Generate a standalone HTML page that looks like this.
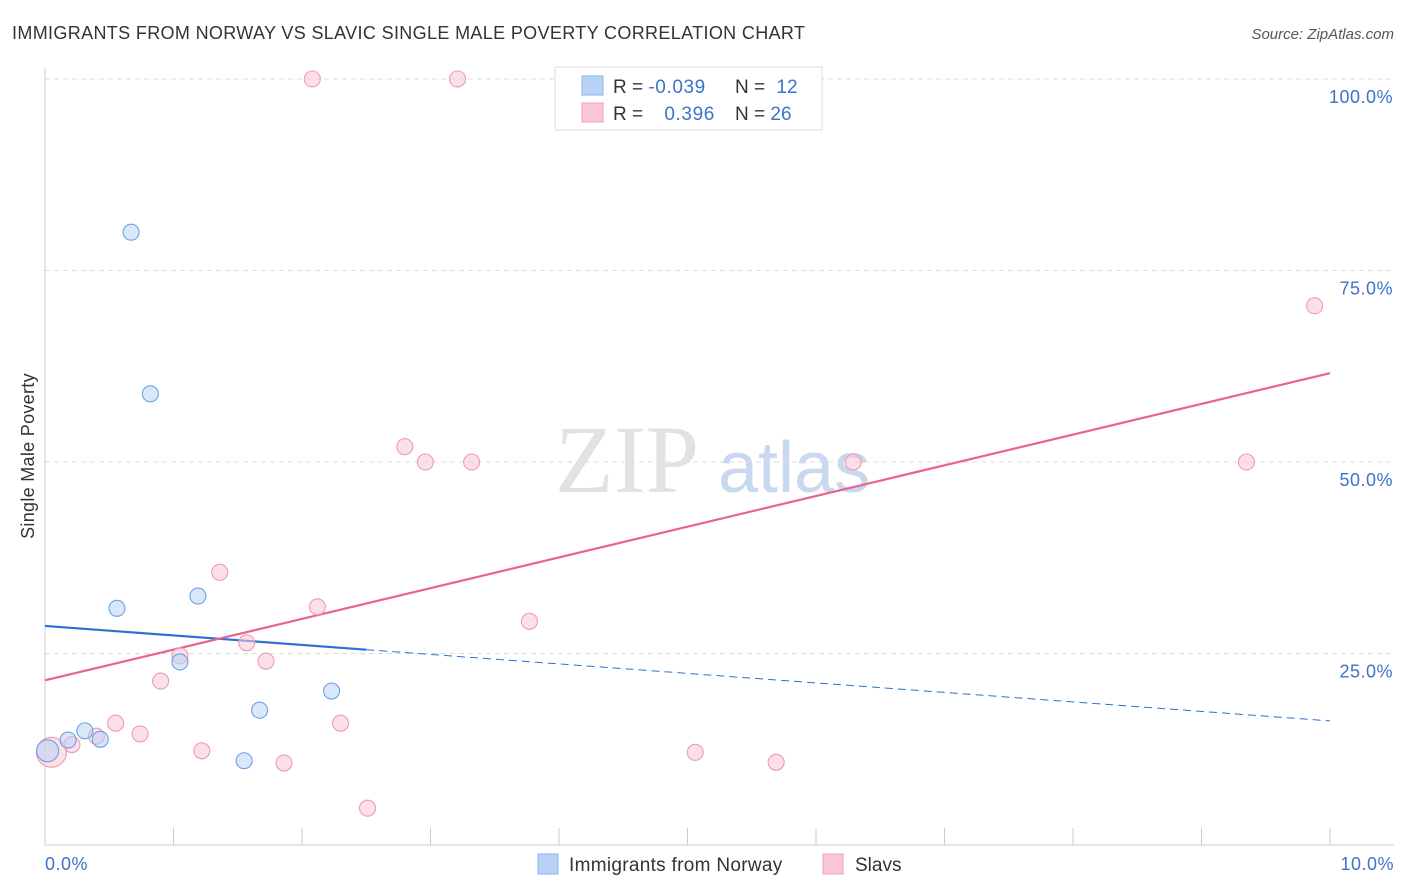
<!DOCTYPE html>
<html><head><meta charset="utf-8"><style>
body{margin:0;background:#fff;font-family:"Liberation Sans",sans-serif;}
svg{display:block}
</style></head><body>
<svg id="c" width="1406" height="892" xmlns="http://www.w3.org/2000/svg">
<text x="12" y="39" font-size="18" fill="#333" letter-spacing="0.35">IMMIGRANTS FROM NORWAY VS SLAVIC SINGLE MALE POVERTY CORRELATION CHART</text>
<text x="1394" y="39" font-size="15" fill="#555" font-style="italic" text-anchor="end">Source: ZipAtlas.com</text>
<text x="34" y="456" font-size="18" fill="#333" text-anchor="middle" letter-spacing="0.3" transform="rotate(-90 34 456)">Single Male Poverty</text>
<text x="555" y="492" font-size="96" fill="#e2e2e2" font-family="Liberation Serif,serif">ZIP</text>
<text x="718" y="492" font-size="72" fill="#c8d8ef">atlas</text>
<g id="grid"></g><g id="axes"></g><g id="lines"></g><g id="pts"></g>
<g>
<rect x="555" y="67" width="267" height="63" fill="#fff" stroke="#ddd"/>
<rect x="582" y="76" width="21" height="19" fill="#b8d3f5" stroke="#8ab4e8"/>
<rect x="582" y="103" width="21" height="19" fill="#f9c6d6" stroke="#f0a0b8"/>
<text x="613" y="93" font-size="19" fill="#333">R = <tspan fill="#3b73c8" letter-spacing="0.6">-0.039</tspan></text>
<text x="735" y="93" font-size="19" fill="#333">N = <tspan fill="#3b73c8" dx="6">12</tspan></text>
<text x="613" y="120" font-size="19" fill="#333">R = <tspan fill="#3b73c8" dx="16" letter-spacing="0.6">0.396</tspan></text>
<text x="735" y="120" font-size="19" fill="#333">N = <tspan fill="#3b73c8">26</tspan></text>
</g>
<g>
<rect x="538" y="854" width="20" height="20" fill="#b8d3f5" stroke="#8ab4e8"/>
<text x="569" y="871" font-size="19" fill="#333" letter-spacing="0.3">Immigrants from Norway</text>
<rect x="823" y="854" width="20" height="20" fill="#f9c6d6" stroke="#f0a0b8"/>
<text x="855" y="871" font-size="19" fill="#333">Slavs</text>
</g>
</svg>
<script>
const blueX=[0.67,0.82,0.56,1.19,1.05,2.23,1.67,1.55,0.31,0.18,0.43,0.02];
const blueY=[80.0,58.9,30.9,32.5,23.9,20.1,17.6,11.0,14.9,13.7,13.8,12.3];
const pinkX=[2.08,3.21,9.88,2.80,2.96,3.32,6.29,9.35,1.36,2.12,3.77,1.57,1.05,1.72,0.90,0.55,2.30,0.74,0.40,0.21,1.22,5.06,1.86,5.69,2.51,0.05];
const pinkY=[100,100,70.4,52.0,50,50,50,50,35.6,31.1,29.2,26.4,24.7,24.0,21.4,15.9,15.9,14.5,14.2,13.1,12.3,12.1,10.7,10.8,4.8,12.1];
const blueLine=[28.6,16.2];
const pinkLine=[21.5,61.6];
const yTicks=[25,50,75,100];
const xTickLabels=["0.0%","10.0%"];
const NS="http://www.w3.org/2000/svg";
const sx=v=>45+v*128.5, sy=v=>845-v*7.66;
function mk(tag,attrs,parent){const e=document.createElementNS(NS,tag);for(const k in attrs)e.setAttribute(k,attrs[k]);document.getElementById(parent).appendChild(e);return e;}
yTicks.forEach(t=>{
 const l=mk('line',{x1:45,x2:1394,y1:sy(t),y2:sy(t),stroke:'#ddd','stroke-dasharray':'5,4'},'grid');
 
 
 const tx=mk('text',{x:1393,y:sy(t)+24,'font-size':18,fill:'#3b73c8','text-anchor':'end','letter-spacing':0.5},'grid');
 tx.textContent=t.toFixed(1)+'%';
 
 
});
mk('line',{x1:45,x2:45,y1:68,y2:845,stroke:'#ccc'},'axes');
mk('line',{x1:45,x2:1394,y1:845,y2:845,stroke:'#ccc'},'axes');
for(let i=1;i<=10;i++){const t=mk('line',{x1:sx(i),x2:sx(i),y1:828,y2:845,stroke:'#ccc'},'axes');
 
 }
[[0,'start',45],[10,'end',1394]].forEach((d,i)=>{const t=mk('text',{x:d[2],y:870,'font-size':18,fill:'#3b73c8','text-anchor':d[1],'letter-spacing':0.5},'axes');t.textContent=xTickLabels[i];
 
 });
const by=x=>blueLine[0]+(blueLine[1]-blueLine[0])*x/10;
let l1=mk('line',{x1:sx(0),y1:sy(by(0)),x2:sx(2.5),y2:sy(by(2.5)),stroke:'#2d6fd6','stroke-width':2.2},'lines');


let l2=mk('line',{x1:sx(2.5),y1:sy(by(2.5)),x2:sx(10),y2:sy(by(10)),stroke:'#2d6fd6','stroke-width':1,'stroke-dasharray':'8,5'},'lines');


let l3=mk('line',{x1:sx(0),y1:sy(pinkLine[0]),x2:sx(10),y2:sy(pinkLine[1]),stroke:'#e8648f','stroke-width':2.2},'lines');


pinkX.forEach((x,i)=>{const c=mk('circle',{cx:sx(x),cy:sy(pinkY[i]),r:i==25?15:8,fill:'#f9c6d6','fill-opacity':0.55,stroke:'#ef9ab5','stroke-width':1.1},'pts');
 
 });
blueX.forEach((x,i)=>{const c=mk('circle',{cx:sx(x),cy:sy(blueY[i]),r:i==11?11:8,fill:'#b8d3f5','fill-opacity':0.55,stroke:'#6fa0e0','stroke-width':1.1},'pts');
 
 });
</script>
</body></html>
